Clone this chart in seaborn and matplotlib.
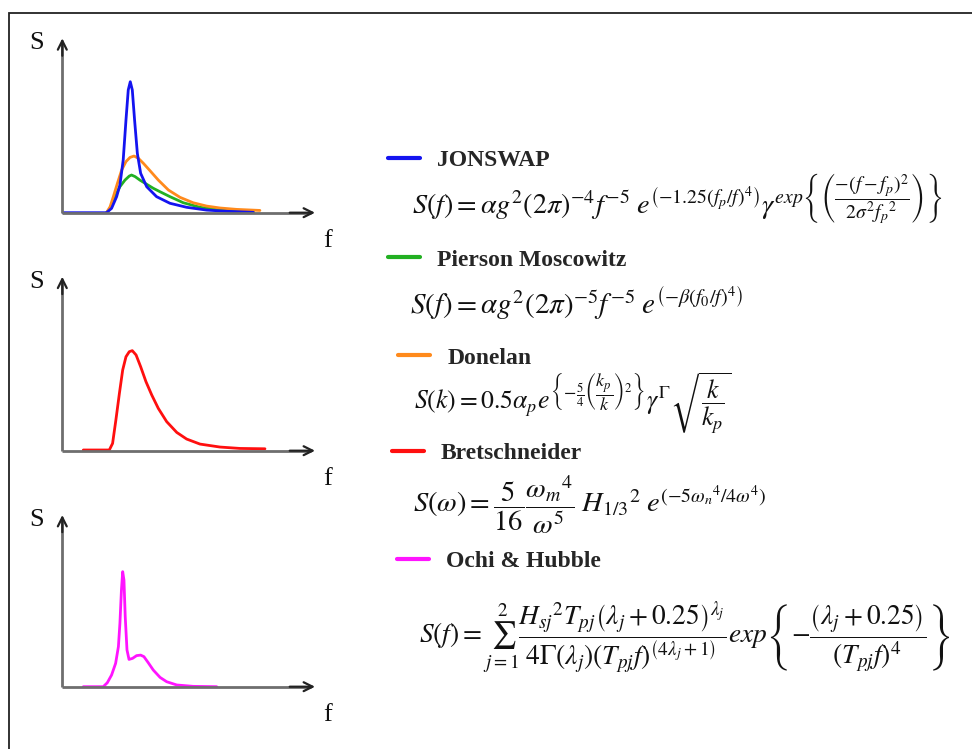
import numpy as np
import pandas as pd
import matplotlib
matplotlib.use("Agg")
import matplotlib.pyplot as plt
from matplotlib.lines import Line2D
from matplotlib.patches import Rectangle
import seaborn as sns

sns.set_theme(style="white")
plt.rcParams['font.family'] = ['Liberation Serif', 'DejaVu Serif']
plt.rcParams['mathtext.fontset'] = 'stix'

# ---------------- data (relative units: 1 = length of axis arrow) ----------------
jonswap_f = [0.004, 0.175, 0.195, 0.215, 0.228, 0.241, 0.252, 0.261, 0.269, 0.277, 0.286,
             0.297, 0.310, 0.334, 0.373, 0.426, 0.492, 0.571, 0.650, 0.756]
jonswap_s = [0.0, 0.0, 0.025, 0.092, 0.159, 0.302, 0.532, 0.704, 0.751, 0.704, 0.532,
             0.340, 0.226, 0.149, 0.092, 0.054, 0.031, 0.015, 0.008, 0.002]

pm_f = [0.175, 0.189, 0.202, 0.215, 0.228, 0.248, 0.265, 0.274, 0.288, 0.307, 0.334,
        0.360, 0.387, 0.426, 0.479, 0.545, 0.624, 0.756]
pm_s = [0.0, 0.025, 0.063, 0.111, 0.149, 0.187, 0.210, 0.216, 0.207, 0.187, 0.163,
        0.140, 0.120, 0.092, 0.057, 0.031, 0.015, 0.004]

donelan_f = [0.175, 0.189, 0.202, 0.218, 0.235, 0.252, 0.268, 0.284, 0.301, 0.321, 0.347,
             0.380, 0.420, 0.466, 0.518, 0.571, 0.624, 0.690, 0.782]
donelan_s = [0.0, 0.034, 0.092, 0.168, 0.245, 0.293, 0.317, 0.325, 0.312, 0.283, 0.241,
             0.187, 0.130, 0.088, 0.057, 0.038, 0.027, 0.019, 0.013]

bret_f = [0.083, 0.186, 0.199, 0.212, 0.226, 0.239, 0.252, 0.265, 0.277, 0.292, 0.310,
          0.331, 0.354, 0.380, 0.413, 0.453, 0.492, 0.545, 0.624, 0.703, 0.802]
bret_s = [0.004, 0.004, 0.042, 0.176, 0.330, 0.464, 0.540, 0.569, 0.575, 0.550, 0.483,
          0.397, 0.320, 0.243, 0.167, 0.105, 0.067, 0.038, 0.021, 0.013, 0.011]

ochi_f = [0.083, 0.162, 0.178, 0.195, 0.211, 0.222, 0.228, 0.234, 0.239, 0.244, 0.249,
          0.256, 0.264, 0.278, 0.294, 0.310, 0.323, 0.340, 0.360, 0.387, 0.413, 0.453,
          0.518, 0.611]
ochi_s = [0.0, 0.0, 0.023, 0.068, 0.136, 0.233, 0.369, 0.563, 0.670, 0.621, 0.408,
          0.214, 0.159, 0.165, 0.181, 0.184, 0.175, 0.140, 0.097, 0.054, 0.029, 0.010,
          0.002, 0.0]

names = ["JONSWAP", "Pierson Moscowitz", "Donelan", "Bretschneider", "Ochi & Hubble"]
colors = ["#1414f0", "#22b022", "#ff8a1c", "#ff0f0f", "#ff14ff"]

formulas = [
    r'$S(f)=\alpha g^2(2\pi)^{-4}f^{-5}\;e^{\left(-1.25\left(f_p/f\right)^4\right)}\gamma^{exp\left\{\left(\dfrac{-\left(f-f_p\right)^2}{2\sigma^2 {f_p}^2}\right)\right\}}$',
    r'$S(f)=\alpha g^2(2\pi)^{-5}f^{-5}\;e^{\left(-\beta(f_0/f)^4\right)}$',
    r'$S(k)=0.5\alpha_p e^{\left\{-\frac{5}{4}\left(\dfrac{k_p}{k}\right)^2\right\}}\gamma^{\Gamma}\sqrt{\dfrac{k}{k_p}}$',
    r'$S(\omega)=\dfrac{5}{16}\dfrac{{\omega_m}^4}{\omega^5}\;{H_{1/3}}^2\;e^{\left(-5{\omega_n}^4/4\omega^4\right)}$',
    r'$S(f)=\sum_{j=1}^{2}\dfrac{{H_{sj}}^2T_{pj}\left(\lambda_j+0.25\right)^{\lambda_j}}{4\Gamma\left(\lambda_j\right)\left(T_{pj}f\right)^{\left(4\lambda_j+1\right)}}exp\left\{-\dfrac{\left(\lambda_j+0.25\right)}{\left(T_{pj}f\right)^4}\right\}$',
]

# ---------------- figure ----------------
W, H = 972, 749
fig = plt.figure(figsize=(W / 100, H / 100), dpi=100)
fig.patch.set_facecolor("white")

def fx(px):
    return px / W

def fy(py):
    return 1 - py / H

# outer frame (top & left edges visible)
fig.patches.append(Rectangle((fx(9), -0.2), 1.5, fy(13) + 0.2, transform=fig.transFigure,
                             fill=False, edgecolor="#222222", lw=1.3))

panels = [
    # origin x, origin y, tip x, tip y
    (62.3, 212.7, 315, 38.3),
    (62.3, 450.7, 315, 276.7),
    (62.3, 686.7, 315, 515.0),
]
panel_series = [
    [(pm_f, pm_s, colors[1]), (donelan_f, donelan_s, colors[2]), (jonswap_f, jonswap_s, colors[0])],
    [(bret_f, bret_s, colors[3])],
    [(ochi_f, ochi_s, colors[4])],
]

for (ox, oy, tx, ty), series in zip(panels, panel_series):
    ax = fig.add_axes([fx(ox), fy(oy), (tx - ox) / W, (oy - ty) / H])
    ax.set_xlim(0, 1)
    ax.set_ylim(0, 1)
    ax.axis("off")
    for f, s, c in series:
        df = pd.DataFrame({"f": f, "S": s})
        sns.lineplot(data=df, x="f", y="S", ax=ax, color=c, lw=2.0, sort=False,
                     clip_on=False)
    line_kw = dict(color="#6e6e6e", lw=2.0, solid_capstyle="butt", clip_on=False)
    ax.plot([0, 0.985], [0, 0], **line_kw)
    ax.plot([0, 0], [0, 0.98], **line_kw)
    arrow = dict(arrowstyle="->", color="#222222", lw=1.6, mutation_scale=16,
                 shrinkA=0, shrinkB=0)
    ax.annotate("", xy=(1, 0), xytext=(0.9, 0), arrowprops=arrow, annotation_clip=False)
    ax.annotate("", xy=(0, 1), xytext=(0, 0.9), arrowprops=arrow, annotation_clip=False)
    ax.text(fx(37), fy(ty + 5), "S", transform=fig.transFigure, fontsize=19,
            ha="center", va="center", color="#111111")
    ax.text(fx(328), fy(oy + 28), "f", transform=fig.transFigure, fontsize=19,
            ha="center", va="center", color="#111111")

# ---------------- legend entries ----------------
legend_pos = [(388, 160), (388, 260), (398, 358), (392, 453), (397, 561)]
for name, c, (lx, ly) in zip(names, colors, legend_pos):
    fig.legend(handles=[Line2D([], [], color=c, lw=3)], labels=[name],
               loc="center left", bbox_to_anchor=(fx(lx), fy(ly)),
               bbox_transform=fig.transFigure, frameon=False,
               handlelength=1.36, handletextpad=0.72, borderpad=0,
               borderaxespad=0,
               prop=dict(family="Liberation Serif", weight="bold", size=17))

formula_pos = [(412, 214), (410, 315), (414, 408), (413, 512), (419, 643)]
formula_size = [20.3, 21.0, 18.5, 20.5, 19.7]
for txt, (px, py), fs in zip(formulas, formula_pos, formula_size):
    fig.text(fx(px), fy(py), txt, fontsize=fs, ha="left", va="baseline", color="#111111")

fig.savefig("out.png", dpi=100)
